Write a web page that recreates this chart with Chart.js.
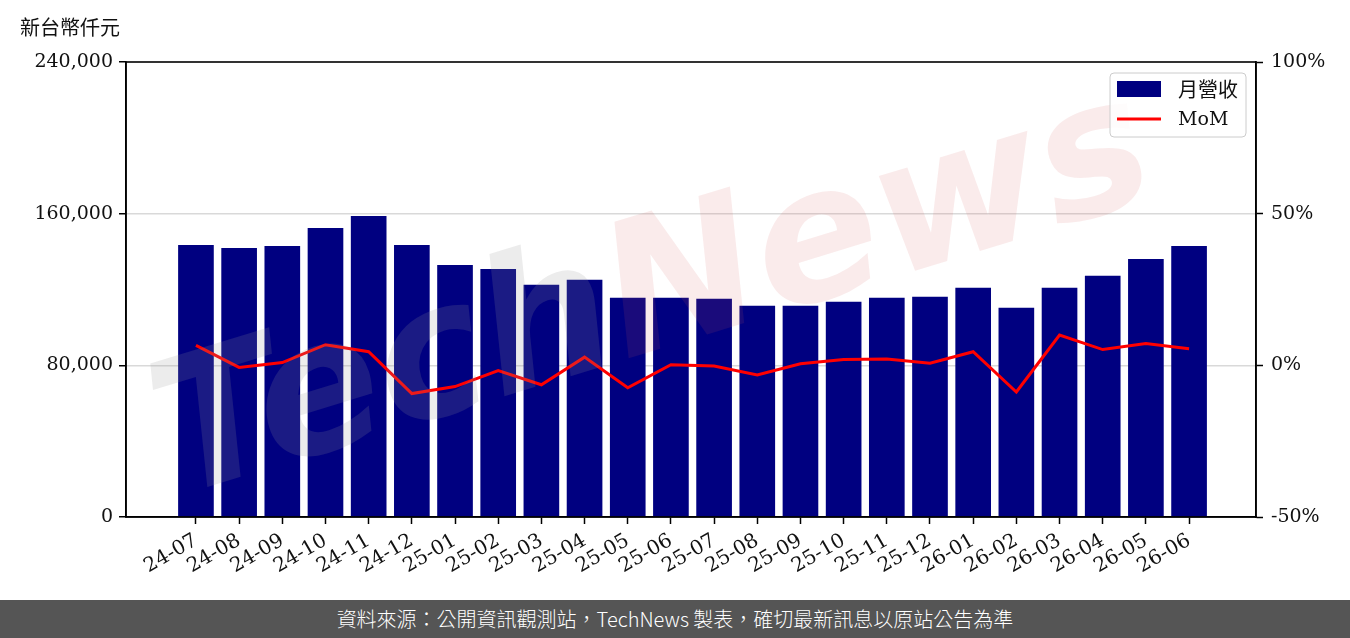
<!DOCTYPE html>
<html>
<head>
<meta charset="utf-8">
<script src="https://cdn.jsdelivr.net/npm/chart.js@4"></script>
<style>
html,body{margin:0;padding:0;background:#fff;}
#wrap{position:relative;width:1350px;height:638px;}
#c{position:absolute;left:0;top:0;}
#footer{position:absolute;left:0;top:600px;width:1350px;height:38px;background:#555555;color:#fff;
font-family:"Noto Sans CJK TC","Noto Sans",sans-serif;font-size:20px;font-weight:300;line-height:38px;text-align:center;}
</style>
</head>
<body>
<div id="wrap">
<canvas id="c" width="1350" height="600"></canvas>
<div id="footer">資料來源：公開資訊觀測站，TechNews 製表，確切最新訊息以原站公告為準</div>
</div>
<script>
const categories = ['24-07','24-08','24-09','24-10','24-11','24-12','25-01','25-02','25-03','25-04','25-05','25-06','25-07','25-08','25-09','25-10','25-11','25-12','26-01','26-02','26-03','26-04','26-05','26-06'];
const revenue = [143300,141750,142800,152250,158550,143300,132800,130700,122300,124950,115500,115500,114975,111300,111300,113400,115500,116025,120750,110250,120750,127050,135975,142800];
const mom = [6.6,-0.7,0.9,6.8,4.5,-9.3,-7.0,-1.7,-6.4,2.7,-7.4,0.2,-0.2,-3.2,0.5,1.9,2.1,0.7,4.5,-8.8,10.0,5.2,7.2,5.5];
const leftTicks = [0,80000,160000,240000];
const rightTicks = [-50,0,50,100];
const seriesNames = ['月營收','MoM'];
const yTitle = '新台幣仟元';

const serif = "'DejaVu Serif','Liberation Serif',serif";
const cjk = "'Noto Sans CJK TC','Noto Sans',sans-serif";

const watermark = {
  id:'watermark',
  afterDatasetsDraw(chart){
    const ctx = chart.ctx;
    ctx.save();
    ctx.beginPath();
    ctx.rect(chart.chartArea.left, chart.chartArea.top, chart.chartArea.width, chart.chartArea.height);
    ctx.clip();
    ctx.translate(655, 300);
    ctx.rotate(-17*Math.PI/180);
    ctx.font = "italic bold 185px 'DejaVu Sans', sans-serif";
    ctx.textBaseline = 'middle';
    const w1 = ctx.measureText('Tech').width;
    const w2 = ctx.measureText('News').width;
    const x0 = -(w1+w2)/2;
    ctx.fillStyle = 'rgba(150,150,150,0.18)';
    ctx.fillText('Tech', x0, 0);
    ctx.fillStyle = 'rgba(215,90,90,0.12)';
    ctx.fillText('News', x0+w1, 0);
    ctx.restore();
  }
};

const frameAndLegend = {
  id:'frameAndLegend',
  afterDraw(chart){
    const ctx = chart.ctx, a = chart.chartArea;
    ctx.save();
    ctx.strokeStyle = '#000';
    ctx.lineWidth = 1.6;
    ctx.strokeRect(a.left, a.top, a.right-a.left, a.bottom-a.top);
    const lx = 1110, ly = 73, lw = 136, lh = 64;
    ctx.beginPath();
    ctx.roundRect(lx, ly, lw, lh, 4);
    ctx.fillStyle = 'rgba(255,255,255,0.85)';
    ctx.fill();
    ctx.strokeStyle = '#cccccc';
    ctx.lineWidth = 1;
    ctx.stroke();
    ctx.fillStyle = chart.data.datasets[0].backgroundColor;
    ctx.fillRect(1117, 81, 44, 16);
    ctx.strokeStyle = chart.data.datasets[1].borderColor;
    ctx.lineWidth = 3;
    ctx.beginPath(); ctx.moveTo(1117, 119); ctx.lineTo(1161, 119); ctx.stroke();
    ctx.fillStyle = '#111';
    ctx.textBaseline = 'middle';
    ctx.font = "20px 'Noto Sans CJK TC', sans-serif";
    ctx.fillText(chart.data.datasets[0].label, 1178, 89);
    ctx.font = "19px " + serif;
    ctx.fillText(chart.data.datasets[1].label, 1178, 120);
    ctx.restore();
  }
};

new Chart(document.getElementById('c'), {
  data: {
    datasets: [
      {
        type:'bar', label: seriesNames[0], yAxisID:'y', xAxisID:'x',
        data: categories.map((c,i)=>({x:i, y:revenue[i]})),
        backgroundColor:'#000080', barThickness:35, order:2
      },
      {
        type:'line', label: seriesNames[1], yAxisID:'y1', xAxisID:'x',
        data: categories.map((c,i)=>({x:i, y:mom[i]})),
        borderColor:'#ff0000', borderWidth:3, pointRadius:0, tension:0, order:1
      }
    ]
  },
  options: {
    responsive:false, animation:false,
    layout:{padding:{left:20, right:0, top:0, bottom:0}},
    plugins:{
      legend:{display:false},
      tooltip:{enabled:false},
      title:{display:true, text:yTitle, align:'start', color:'#111',
        font:{family:cjk, size:20, weight:'normal'}, padding:{top:15, bottom:23}}
    },
    scales:{
      x:{
        type:'linear', min:-1.62, max:24.55, position:'bottom', offset:false,
        afterBuildTicks(s){ s.ticks = categories.map((c,i)=>({value:i})); },
        afterFit(s){ s.height = 83; },
        ticks:{ autoSkip:false, maxRotation:30, minRotation:30, color:'#111',
          font:{family:serif, size:20}, padding:5,
          callback:(v)=>categories[v] ?? '' },
        grid:{ offset:false, drawOnChartArea:false, drawTicks:true, tickLength:7, tickColor:'#000', tickWidth:1.5 },
        border:{ display:true, color:'#000', width:1.6 }
      },
      y:{
        position:'left', min:0, max:240000,
        afterBuildTicks(s){ s.ticks = leftTicks.map(v=>({value:v})); },
        afterFit(s){ s.width = 106; },
        ticks:{ color:'#111', font:{family:serif, size:19}, padding:6,
          callback:(v)=>v.toLocaleString('en-US') },
        grid:{ color:(c)=> (c.tick && (c.tick.value===0 || c.tick.value===240000)) ? 'rgba(0,0,0,0)' : '#d9d9d9',
          lineWidth:1.5, tickColor:'#000', tickLength:7, tickWidth:1.5 },
        border:{ display:true, color:'#000', width:1.6 }
      },
      y1:{
        position:'right', min:-50, max:100,
        afterBuildTicks(s){ s.ticks = rightTicks.map(v=>({value:v})); },
        afterFit(s){ s.width = 94; },
        ticks:{ color:'#111', font:{family:serif, size:19}, padding:8,
          callback:(v)=>v + '%' },
        grid:{ drawOnChartArea:false, tickColor:'#000', tickLength:7, tickWidth:1.5 },
        border:{ display:true, color:'#000', width:1.6 }
      }
    }
  },
  plugins:[watermark, frameAndLegend]
});
</script>
</body>
</html>
